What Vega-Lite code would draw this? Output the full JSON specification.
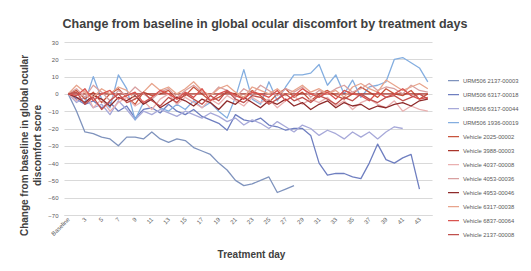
{
"$schema":"https://vega.github.io/schema/vega-lite/v6.json",
"width":368,"height":173,
"autosize":"none",
"padding":{"left":64,"top":42,"right":99,"bottom":56},
"background":"white",
"title":{"text":"Change from baseline in global ocular discomfort by treatment days","fontSize":12.5,"font":"Liberation Sans","fontWeight":"bold","color":"#404040","anchor":"middle","dx":17,"offset":9},
"config":{"view":{"stroke":null},"font":"Liberation Sans"},
"data":{"values":[
{"d":"Baseline","s":"URM506 2137-00003","v":0},{"d":"2","s":"URM506 2137-00003","v":-10},{"d":"3","s":"URM506 2137-00003","v":-22},{"d":"4","s":"URM506 2137-00003","v":-23},{"d":"5","s":"URM506 2137-00003","v":-25},{"d":"6","s":"URM506 2137-00003","v":-26},{"d":"7","s":"URM506 2137-00003","v":-30},{"d":"8","s":"URM506 2137-00003","v":-25},{"d":"9","s":"URM506 2137-00003","v":-25},{"d":"10","s":"URM506 2137-00003","v":-26},{"d":"11","s":"URM506 2137-00003","v":-22},{"d":"12","s":"URM506 2137-00003","v":-26},{"d":"13","s":"URM506 2137-00003","v":-28},{"d":"14","s":"URM506 2137-00003","v":-26},{"d":"15","s":"URM506 2137-00003","v":-27},{"d":"16","s":"URM506 2137-00003","v":-31},{"d":"17","s":"URM506 2137-00003","v":-33},{"d":"18","s":"URM506 2137-00003","v":-35},{"d":"19","s":"URM506 2137-00003","v":-40},{"d":"20","s":"URM506 2137-00003","v":-44},{"d":"21","s":"URM506 2137-00003","v":-50},{"d":"22","s":"URM506 2137-00003","v":-53},{"d":"23","s":"URM506 2137-00003","v":-52},{"d":"24","s":"URM506 2137-00003","v":-50},{"d":"25","s":"URM506 2137-00003","v":-48},{"d":"26","s":"URM506 2137-00003","v":-57},{"d":"27","s":"URM506 2137-00003","v":-55},{"d":"28","s":"URM506 2137-00003","v":-53},
{"d":"Baseline","s":"URM506 6317-00018","v":0},{"d":"2","s":"URM506 6317-00018","v":-3},{"d":"3","s":"URM506 6317-00018","v":-6},{"d":"4","s":"URM506 6317-00018","v":-4},{"d":"5","s":"URM506 6317-00018","v":-8},{"d":"6","s":"URM506 6317-00018","v":-5},{"d":"7","s":"URM506 6317-00018","v":-10},{"d":"8","s":"URM506 6317-00018","v":-7},{"d":"9","s":"URM506 6317-00018","v":-14},{"d":"10","s":"URM506 6317-00018","v":-9},{"d":"11","s":"URM506 6317-00018","v":-8},{"d":"12","s":"URM506 6317-00018","v":-11},{"d":"13","s":"URM506 6317-00018","v":-6},{"d":"14","s":"URM506 6317-00018","v":-10},{"d":"15","s":"URM506 6317-00018","v":-12},{"d":"16","s":"URM506 6317-00018","v":-9},{"d":"17","s":"URM506 6317-00018","v":-13},{"d":"18","s":"URM506 6317-00018","v":-15},{"d":"19","s":"URM506 6317-00018","v":-17},{"d":"20","s":"URM506 6317-00018","v":-21},{"d":"21","s":"URM506 6317-00018","v":-12},{"d":"22","s":"URM506 6317-00018","v":-15},{"d":"23","s":"URM506 6317-00018","v":-16},{"d":"24","s":"URM506 6317-00018","v":-14},{"d":"25","s":"URM506 6317-00018","v":-18},{"d":"26","s":"URM506 6317-00018","v":-19},{"d":"27","s":"URM506 6317-00018","v":-21},{"d":"28","s":"URM506 6317-00018","v":-20},{"d":"29","s":"URM506 6317-00018","v":-20},{"d":"30","s":"URM506 6317-00018","v":-24},{"d":"31","s":"URM506 6317-00018","v":-40},{"d":"32","s":"URM506 6317-00018","v":-47},{"d":"33","s":"URM506 6317-00018","v":-46},{"d":"34","s":"URM506 6317-00018","v":-46},{"d":"35","s":"URM506 6317-00018","v":-48},{"d":"36","s":"URM506 6317-00018","v":-49},{"d":"37","s":"URM506 6317-00018","v":-40},{"d":"38","s":"URM506 6317-00018","v":-29},{"d":"39","s":"URM506 6317-00018","v":-38},{"d":"40","s":"URM506 6317-00018","v":-40},{"d":"41","s":"URM506 6317-00018","v":-37},{"d":"42","s":"URM506 6317-00018","v":-35},{"d":"43","s":"URM506 6317-00018","v":-55},
{"d":"Baseline","s":"URM506 6317-00044","v":0},{"d":"2","s":"URM506 6317-00044","v":-5},{"d":"3","s":"URM506 6317-00044","v":-2},{"d":"4","s":"URM506 6317-00044","v":-8},{"d":"5","s":"URM506 6317-00044","v":-6},{"d":"6","s":"URM506 6317-00044","v":-12},{"d":"7","s":"URM506 6317-00044","v":-4},{"d":"8","s":"URM506 6317-00044","v":-9},{"d":"9","s":"URM506 6317-00044","v":-15},{"d":"10","s":"URM506 6317-00044","v":-10},{"d":"11","s":"URM506 6317-00044","v":-12},{"d":"12","s":"URM506 6317-00044","v":-9},{"d":"13","s":"URM506 6317-00044","v":-11},{"d":"14","s":"URM506 6317-00044","v":-13},{"d":"15","s":"URM506 6317-00044","v":-10},{"d":"16","s":"URM506 6317-00044","v":-12},{"d":"17","s":"URM506 6317-00044","v":-14},{"d":"18","s":"URM506 6317-00044","v":-11},{"d":"19","s":"URM506 6317-00044","v":-13},{"d":"20","s":"URM506 6317-00044","v":-16},{"d":"21","s":"URM506 6317-00044","v":-14},{"d":"22","s":"URM506 6317-00044","v":-18},{"d":"23","s":"URM506 6317-00044","v":-15},{"d":"24","s":"URM506 6317-00044","v":-17},{"d":"25","s":"URM506 6317-00044","v":-20},{"d":"26","s":"URM506 6317-00044","v":-16},{"d":"27","s":"URM506 6317-00044","v":-19},{"d":"28","s":"URM506 6317-00044","v":-22},{"d":"29","s":"URM506 6317-00044","v":-18},{"d":"30","s":"URM506 6317-00044","v":-20},{"d":"31","s":"URM506 6317-00044","v":-24},{"d":"32","s":"URM506 6317-00044","v":-21},{"d":"33","s":"URM506 6317-00044","v":-23},{"d":"34","s":"URM506 6317-00044","v":-26},{"d":"35","s":"URM506 6317-00044","v":-22},{"d":"36","s":"URM506 6317-00044","v":-25},{"d":"37","s":"URM506 6317-00044","v":-22},{"d":"38","s":"URM506 6317-00044","v":-26},{"d":"39","s":"URM506 6317-00044","v":-22},{"d":"40","s":"URM506 6317-00044","v":-19},{"d":"41","s":"URM506 6317-00044","v":-20},
{"d":"Baseline","s":"URM506 1936-00019","v":0},{"d":"2","s":"URM506 1936-00019","v":-2},{"d":"3","s":"URM506 1936-00019","v":-5},{"d":"4","s":"URM506 1936-00019","v":10},{"d":"5","s":"URM506 1936-00019","v":-3},{"d":"6","s":"URM506 1936-00019","v":-8},{"d":"7","s":"URM506 1936-00019","v":11},{"d":"8","s":"URM506 1936-00019","v":3},{"d":"9","s":"URM506 1936-00019","v":-15},{"d":"10","s":"URM506 1936-00019","v":-5},{"d":"11","s":"URM506 1936-00019","v":-3},{"d":"12","s":"URM506 1936-00019","v":-8},{"d":"13","s":"URM506 1936-00019","v":-10},{"d":"14","s":"URM506 1936-00019","v":-6},{"d":"15","s":"URM506 1936-00019","v":-9},{"d":"16","s":"URM506 1936-00019","v":-4},{"d":"17","s":"URM506 1936-00019","v":-8},{"d":"18","s":"URM506 1936-00019","v":-5},{"d":"19","s":"URM506 1936-00019","v":-10},{"d":"20","s":"URM506 1936-00019","v":-14},{"d":"21","s":"URM506 1936-00019","v":-2},{"d":"22","s":"URM506 1936-00019","v":14},{"d":"23","s":"URM506 1936-00019","v":-3},{"d":"24","s":"URM506 1936-00019","v":-6},{"d":"25","s":"URM506 1936-00019","v":7},{"d":"26","s":"URM506 1936-00019","v":-4},{"d":"27","s":"URM506 1936-00019","v":4},{"d":"28","s":"URM506 1936-00019","v":11},{"d":"29","s":"URM506 1936-00019","v":11},{"d":"30","s":"URM506 1936-00019","v":12},{"d":"31","s":"URM506 1936-00019","v":17},{"d":"32","s":"URM506 1936-00019","v":5},{"d":"33","s":"URM506 1936-00019","v":11},{"d":"34","s":"URM506 1936-00019","v":0},{"d":"35","s":"URM506 1936-00019","v":8},{"d":"36","s":"URM506 1936-00019","v":-2},{"d":"37","s":"URM506 1936-00019","v":4},{"d":"38","s":"URM506 1936-00019","v":5},{"d":"39","s":"URM506 1936-00019","v":7},{"d":"40","s":"URM506 1936-00019","v":20},{"d":"41","s":"URM506 1936-00019","v":21},{"d":"42","s":"URM506 1936-00019","v":18},{"d":"43","s":"URM506 1936-00019","v":15},{"d":"44","s":"URM506 1936-00019","v":7},
{"d":"Baseline","s":"Vehicle 2025-00002","v":0},{"d":"2","s":"Vehicle 2025-00002","v":2},{"d":"3","s":"Vehicle 2025-00002","v":-3},{"d":"4","s":"Vehicle 2025-00002","v":1},{"d":"5","s":"Vehicle 2025-00002","v":-5},{"d":"6","s":"Vehicle 2025-00002","v":0},{"d":"7","s":"Vehicle 2025-00002","v":3},{"d":"8","s":"Vehicle 2025-00002","v":-2},{"d":"9","s":"Vehicle 2025-00002","v":-6},{"d":"10","s":"Vehicle 2025-00002","v":1},{"d":"11","s":"Vehicle 2025-00002","v":-1},{"d":"12","s":"Vehicle 2025-00002","v":0},{"d":"13","s":"Vehicle 2025-00002","v":2},{"d":"14","s":"Vehicle 2025-00002","v":-3},{"d":"15","s":"Vehicle 2025-00002","v":-1},{"d":"16","s":"Vehicle 2025-00002","v":4},{"d":"17","s":"Vehicle 2025-00002","v":0},{"d":"18","s":"Vehicle 2025-00002","v":-4},{"d":"19","s":"Vehicle 2025-00002","v":-2},{"d":"20","s":"Vehicle 2025-00002","v":1},{"d":"21","s":"Vehicle 2025-00002","v":0},{"d":"22","s":"Vehicle 2025-00002","v":-3},{"d":"23","s":"Vehicle 2025-00002","v":2},{"d":"24","s":"Vehicle 2025-00002","v":-1},{"d":"25","s":"Vehicle 2025-00002","v":-5},{"d":"26","s":"Vehicle 2025-00002","v":0},{"d":"27","s":"Vehicle 2025-00002","v":3},{"d":"28","s":"Vehicle 2025-00002","v":-2},{"d":"29","s":"Vehicle 2025-00002","v":1},{"d":"30","s":"Vehicle 2025-00002","v":-4},{"d":"31","s":"Vehicle 2025-00002","v":0},{"d":"32","s":"Vehicle 2025-00002","v":2},{"d":"33","s":"Vehicle 2025-00002","v":-1},{"d":"34","s":"Vehicle 2025-00002","v":-3},{"d":"35","s":"Vehicle 2025-00002","v":0},{"d":"36","s":"Vehicle 2025-00002","v":4},{"d":"37","s":"Vehicle 2025-00002","v":1},{"d":"38","s":"Vehicle 2025-00002","v":-2},{"d":"39","s":"Vehicle 2025-00002","v":3},{"d":"40","s":"Vehicle 2025-00002","v":0},{"d":"41","s":"Vehicle 2025-00002","v":-1},{"d":"42","s":"Vehicle 2025-00002","v":2},{"d":"43","s":"Vehicle 2025-00002","v":-3},{"d":"44","s":"Vehicle 2025-00002","v":0},
{"d":"Baseline","s":"Vehicle 3988-00003","v":0},{"d":"2","s":"Vehicle 3988-00003","v":0},{"d":"3","s":"Vehicle 3988-00003","v":0},{"d":"4","s":"Vehicle 3988-00003","v":0},{"d":"5","s":"Vehicle 3988-00003","v":0},{"d":"6","s":"Vehicle 3988-00003","v":0},{"d":"7","s":"Vehicle 3988-00003","v":0},{"d":"8","s":"Vehicle 3988-00003","v":0},{"d":"9","s":"Vehicle 3988-00003","v":0},{"d":"10","s":"Vehicle 3988-00003","v":0},{"d":"11","s":"Vehicle 3988-00003","v":0},{"d":"12","s":"Vehicle 3988-00003","v":0},{"d":"13","s":"Vehicle 3988-00003","v":0},{"d":"14","s":"Vehicle 3988-00003","v":0},{"d":"15","s":"Vehicle 3988-00003","v":0},{"d":"16","s":"Vehicle 3988-00003","v":0},{"d":"17","s":"Vehicle 3988-00003","v":0},{"d":"18","s":"Vehicle 3988-00003","v":0},{"d":"19","s":"Vehicle 3988-00003","v":0},{"d":"20","s":"Vehicle 3988-00003","v":0},{"d":"21","s":"Vehicle 3988-00003","v":0},{"d":"22","s":"Vehicle 3988-00003","v":0},{"d":"23","s":"Vehicle 3988-00003","v":0},{"d":"24","s":"Vehicle 3988-00003","v":0},{"d":"25","s":"Vehicle 3988-00003","v":0},{"d":"26","s":"Vehicle 3988-00003","v":0},{"d":"27","s":"Vehicle 3988-00003","v":0},{"d":"28","s":"Vehicle 3988-00003","v":0},{"d":"29","s":"Vehicle 3988-00003","v":0},{"d":"30","s":"Vehicle 3988-00003","v":0},{"d":"31","s":"Vehicle 3988-00003","v":0},{"d":"32","s":"Vehicle 3988-00003","v":0},{"d":"33","s":"Vehicle 3988-00003","v":0},{"d":"34","s":"Vehicle 3988-00003","v":0},{"d":"35","s":"Vehicle 3988-00003","v":0},{"d":"36","s":"Vehicle 3988-00003","v":0},{"d":"37","s":"Vehicle 3988-00003","v":0},{"d":"38","s":"Vehicle 3988-00003","v":0},{"d":"39","s":"Vehicle 3988-00003","v":0},{"d":"40","s":"Vehicle 3988-00003","v":0},{"d":"41","s":"Vehicle 3988-00003","v":0},{"d":"42","s":"Vehicle 3988-00003","v":0},{"d":"43","s":"Vehicle 3988-00003","v":0},{"d":"44","s":"Vehicle 3988-00003","v":0},
{"d":"Baseline","s":"Vehicle 4037-00008","v":0},{"d":"2","s":"Vehicle 4037-00008","v":-4},{"d":"3","s":"Vehicle 4037-00008","v":2},{"d":"4","s":"Vehicle 4037-00008","v":-8},{"d":"5","s":"Vehicle 4037-00008","v":-3},{"d":"6","s":"Vehicle 4037-00008","v":-10},{"d":"7","s":"Vehicle 4037-00008","v":-5},{"d":"8","s":"Vehicle 4037-00008","v":-2},{"d":"9","s":"Vehicle 4037-00008","v":-7},{"d":"10","s":"Vehicle 4037-00008","v":-4},{"d":"11","s":"Vehicle 4037-00008","v":-9},{"d":"12","s":"Vehicle 4037-00008","v":-3},{"d":"13","s":"Vehicle 4037-00008","v":0},{"d":"14","s":"Vehicle 4037-00008","v":-6},{"d":"15","s":"Vehicle 4037-00008","v":-2},{"d":"16","s":"Vehicle 4037-00008","v":-5},{"d":"17","s":"Vehicle 4037-00008","v":-8},{"d":"18","s":"Vehicle 4037-00008","v":-3},{"d":"19","s":"Vehicle 4037-00008","v":-6},{"d":"20","s":"Vehicle 4037-00008","v":-1},{"d":"21","s":"Vehicle 4037-00008","v":-4},{"d":"22","s":"Vehicle 4037-00008","v":-7},{"d":"23","s":"Vehicle 4037-00008","v":-2},{"d":"24","s":"Vehicle 4037-00008","v":-5},{"d":"25","s":"Vehicle 4037-00008","v":-3},{"d":"26","s":"Vehicle 4037-00008","v":-8},{"d":"27","s":"Vehicle 4037-00008","v":-4},{"d":"28","s":"Vehicle 4037-00008","v":-1},{"d":"29","s":"Vehicle 4037-00008","v":-6},{"d":"30","s":"Vehicle 4037-00008","v":-3},{"d":"31","s":"Vehicle 4037-00008","v":-5},{"d":"32","s":"Vehicle 4037-00008","v":-2},{"d":"33","s":"Vehicle 4037-00008","v":-7},{"d":"34","s":"Vehicle 4037-00008","v":-4},{"d":"35","s":"Vehicle 4037-00008","v":-9},{"d":"36","s":"Vehicle 4037-00008","v":-5},{"d":"37","s":"Vehicle 4037-00008","v":-3},{"d":"38","s":"Vehicle 4037-00008","v":-6},{"d":"39","s":"Vehicle 4037-00008","v":-8},{"d":"40","s":"Vehicle 4037-00008","v":-4},{"d":"41","s":"Vehicle 4037-00008","v":-10},{"d":"42","s":"Vehicle 4037-00008","v":-7},{"d":"43","s":"Vehicle 4037-00008","v":-9},{"d":"44","s":"Vehicle 4037-00008","v":-10},
{"d":"Baseline","s":"Vehicle 4053-00036","v":0},{"d":"2","s":"Vehicle 4053-00036","v":3},{"d":"3","s":"Vehicle 4053-00036","v":-2},{"d":"4","s":"Vehicle 4053-00036","v":5},{"d":"5","s":"Vehicle 4053-00036","v":1},{"d":"6","s":"Vehicle 4053-00036","v":-4},{"d":"7","s":"Vehicle 4053-00036","v":2},{"d":"8","s":"Vehicle 4053-00036","v":-1},{"d":"9","s":"Vehicle 4053-00036","v":4},{"d":"10","s":"Vehicle 4053-00036","v":0},{"d":"11","s":"Vehicle 4053-00036","v":-3},{"d":"12","s":"Vehicle 4053-00036","v":1},{"d":"13","s":"Vehicle 4053-00036","v":3},{"d":"14","s":"Vehicle 4053-00036","v":-2},{"d":"15","s":"Vehicle 4053-00036","v":2},{"d":"16","s":"Vehicle 4053-00036","v":5},{"d":"17","s":"Vehicle 4053-00036","v":1},{"d":"18","s":"Vehicle 4053-00036","v":-1},{"d":"19","s":"Vehicle 4053-00036","v":4},{"d":"20","s":"Vehicle 4053-00036","v":2},{"d":"21","s":"Vehicle 4053-00036","v":-2},{"d":"22","s":"Vehicle 4053-00036","v":3},{"d":"23","s":"Vehicle 4053-00036","v":0},{"d":"24","s":"Vehicle 4053-00036","v":5},{"d":"25","s":"Vehicle 4053-00036","v":2},{"d":"26","s":"Vehicle 4053-00036","v":-1},{"d":"27","s":"Vehicle 4053-00036","v":3},{"d":"28","s":"Vehicle 4053-00036","v":1},{"d":"29","s":"Vehicle 4053-00036","v":4},{"d":"30","s":"Vehicle 4053-00036","v":-2},{"d":"31","s":"Vehicle 4053-00036","v":2},{"d":"32","s":"Vehicle 4053-00036","v":0},{"d":"33","s":"Vehicle 4053-00036","v":3},{"d":"34","s":"Vehicle 4053-00036","v":5},{"d":"35","s":"Vehicle 4053-00036","v":1},{"d":"36","s":"Vehicle 4053-00036","v":3},{"d":"37","s":"Vehicle 4053-00036","v":6},{"d":"38","s":"Vehicle 4053-00036","v":2},{"d":"39","s":"Vehicle 4053-00036","v":4},{"d":"40","s":"Vehicle 4053-00036","v":3},{"d":"41","s":"Vehicle 4053-00036","v":0},{"d":"42","s":"Vehicle 4053-00036","v":5},{"d":"43","s":"Vehicle 4053-00036","v":2},{"d":"44","s":"Vehicle 4053-00036","v":1},
{"d":"Baseline","s":"Vehicle 4953-00046","v":0},{"d":"2","s":"Vehicle 4953-00046","v":-2},{"d":"3","s":"Vehicle 4953-00046","v":-5},{"d":"4","s":"Vehicle 4953-00046","v":-1},{"d":"5","s":"Vehicle 4953-00046","v":-3},{"d":"6","s":"Vehicle 4953-00046","v":-7},{"d":"7","s":"Vehicle 4953-00046","v":-2},{"d":"8","s":"Vehicle 4953-00046","v":-4},{"d":"9","s":"Vehicle 4953-00046","v":-1},{"d":"10","s":"Vehicle 4953-00046","v":-6},{"d":"11","s":"Vehicle 4953-00046","v":-3},{"d":"12","s":"Vehicle 4953-00046","v":-8},{"d":"13","s":"Vehicle 4953-00046","v":-5},{"d":"14","s":"Vehicle 4953-00046","v":-2},{"d":"15","s":"Vehicle 4953-00046","v":-4},{"d":"16","s":"Vehicle 4953-00046","v":-7},{"d":"17","s":"Vehicle 4953-00046","v":-3},{"d":"18","s":"Vehicle 4953-00046","v":-5},{"d":"19","s":"Vehicle 4953-00046","v":-9},{"d":"20","s":"Vehicle 4953-00046","v":-4},{"d":"21","s":"Vehicle 4953-00046","v":-6},{"d":"22","s":"Vehicle 4953-00046","v":-2},{"d":"23","s":"Vehicle 4953-00046","v":-5},{"d":"24","s":"Vehicle 4953-00046","v":-8},{"d":"25","s":"Vehicle 4953-00046","v":-4},{"d":"26","s":"Vehicle 4953-00046","v":-6},{"d":"27","s":"Vehicle 4953-00046","v":-3},{"d":"28","s":"Vehicle 4953-00046","v":-7},{"d":"29","s":"Vehicle 4953-00046","v":-5},{"d":"30","s":"Vehicle 4953-00046","v":-9},{"d":"31","s":"Vehicle 4953-00046","v":-6},{"d":"32","s":"Vehicle 4953-00046","v":-4},{"d":"33","s":"Vehicle 4953-00046","v":-8},{"d":"34","s":"Vehicle 4953-00046","v":-5},{"d":"35","s":"Vehicle 4953-00046","v":-7},{"d":"36","s":"Vehicle 4953-00046","v":-6},{"d":"37","s":"Vehicle 4953-00046","v":-9},{"d":"38","s":"Vehicle 4953-00046","v":-7},{"d":"39","s":"Vehicle 4953-00046","v":-8},{"d":"40","s":"Vehicle 4953-00046","v":-6},{"d":"41","s":"Vehicle 4953-00046","v":-5},{"d":"42","s":"Vehicle 4953-00046","v":-7},{"d":"43","s":"Vehicle 4953-00046","v":-4},{"d":"44","s":"Vehicle 4953-00046","v":-3},
{"d":"Baseline","s":"Vehicle 6317-00038","v":0},{"d":"2","s":"Vehicle 6317-00038","v":5},{"d":"3","s":"Vehicle 6317-00038","v":1},{"d":"4","s":"Vehicle 6317-00038","v":-2},{"d":"5","s":"Vehicle 6317-00038","v":3},{"d":"6","s":"Vehicle 6317-00038","v":0},{"d":"7","s":"Vehicle 6317-00038","v":4},{"d":"8","s":"Vehicle 6317-00038","v":2},{"d":"9","s":"Vehicle 6317-00038","v":-3},{"d":"10","s":"Vehicle 6317-00038","v":1},{"d":"11","s":"Vehicle 6317-00038","v":6},{"d":"12","s":"Vehicle 6317-00038","v":2},{"d":"13","s":"Vehicle 6317-00038","v":4},{"d":"14","s":"Vehicle 6317-00038","v":0},{"d":"15","s":"Vehicle 6317-00038","v":3},{"d":"16","s":"Vehicle 6317-00038","v":7},{"d":"17","s":"Vehicle 6317-00038","v":2},{"d":"18","s":"Vehicle 6317-00038","v":-1},{"d":"19","s":"Vehicle 6317-00038","v":3},{"d":"20","s":"Vehicle 6317-00038","v":5},{"d":"21","s":"Vehicle 6317-00038","v":1},{"d":"22","s":"Vehicle 6317-00038","v":-2},{"d":"23","s":"Vehicle 6317-00038","v":4},{"d":"24","s":"Vehicle 6317-00038","v":2},{"d":"25","s":"Vehicle 6317-00038","v":0},{"d":"26","s":"Vehicle 6317-00038","v":3},{"d":"27","s":"Vehicle 6317-00038","v":-1},{"d":"28","s":"Vehicle 6317-00038","v":2},{"d":"29","s":"Vehicle 6317-00038","v":5},{"d":"30","s":"Vehicle 6317-00038","v":1},{"d":"31","s":"Vehicle 6317-00038","v":3},{"d":"32","s":"Vehicle 6317-00038","v":0},{"d":"33","s":"Vehicle 6317-00038","v":2},{"d":"34","s":"Vehicle 6317-00038","v":-2},{"d":"35","s":"Vehicle 6317-00038","v":4},{"d":"36","s":"Vehicle 6317-00038","v":6},{"d":"37","s":"Vehicle 6317-00038","v":3},{"d":"38","s":"Vehicle 6317-00038","v":1},{"d":"39","s":"Vehicle 6317-00038","v":8},{"d":"40","s":"Vehicle 6317-00038","v":5},{"d":"41","s":"Vehicle 6317-00038","v":2},{"d":"42","s":"Vehicle 6317-00038","v":4},{"d":"43","s":"Vehicle 6317-00038","v":6},{"d":"44","s":"Vehicle 6317-00038","v":3},
{"d":"Baseline","s":"Vehicle 6837-00064","v":0},{"d":"2","s":"Vehicle 6837-00064","v":-1},{"d":"3","s":"Vehicle 6837-00064","v":3},{"d":"4","s":"Vehicle 6837-00064","v":-4},{"d":"5","s":"Vehicle 6837-00064","v":0},{"d":"6","s":"Vehicle 6837-00064","v":2},{"d":"7","s":"Vehicle 6837-00064","v":-3},{"d":"8","s":"Vehicle 6837-00064","v":-1},{"d":"9","s":"Vehicle 6837-00064","v":1},{"d":"10","s":"Vehicle 6837-00064","v":-5},{"d":"11","s":"Vehicle 6837-00064","v":-2},{"d":"12","s":"Vehicle 6837-00064","v":2},{"d":"13","s":"Vehicle 6837-00064","v":0},{"d":"14","s":"Vehicle 6837-00064","v":-3},{"d":"15","s":"Vehicle 6837-00064","v":1},{"d":"16","s":"Vehicle 6837-00064","v":-2},{"d":"17","s":"Vehicle 6837-00064","v":3},{"d":"18","s":"Vehicle 6837-00064","v":-4},{"d":"19","s":"Vehicle 6837-00064","v":0},{"d":"20","s":"Vehicle 6837-00064","v":2},{"d":"21","s":"Vehicle 6837-00064","v":-1},{"d":"22","s":"Vehicle 6837-00064","v":-3},{"d":"23","s":"Vehicle 6837-00064","v":1},{"d":"24","s":"Vehicle 6837-00064","v":0},{"d":"25","s":"Vehicle 6837-00064","v":-2},{"d":"26","s":"Vehicle 6837-00064","v":2},{"d":"27","s":"Vehicle 6837-00064","v":-4},{"d":"28","s":"Vehicle 6837-00064","v":-1},{"d":"29","s":"Vehicle 6837-00064","v":3},{"d":"30","s":"Vehicle 6837-00064","v":0},{"d":"31","s":"Vehicle 6837-00064","v":-2},{"d":"32","s":"Vehicle 6837-00064","v":1},{"d":"33","s":"Vehicle 6837-00064","v":-3},{"d":"34","s":"Vehicle 6837-00064","v":2},{"d":"35","s":"Vehicle 6837-00064","v":0},{"d":"36","s":"Vehicle 6837-00064","v":-1},{"d":"37","s":"Vehicle 6837-00064","v":-4},{"d":"38","s":"Vehicle 6837-00064","v":1},{"d":"39","s":"Vehicle 6837-00064","v":-2},{"d":"40","s":"Vehicle 6837-00064","v":0},{"d":"41","s":"Vehicle 6837-00064","v":3},{"d":"42","s":"Vehicle 6837-00064","v":-1},{"d":"43","s":"Vehicle 6837-00064","v":-3},{"d":"44","s":"Vehicle 6837-00064","v":-2},
{"d":"Baseline","s":"Vehicle 2137-00008","v":0},{"d":"2","s":"Vehicle 2137-00008","v":1},{"d":"3","s":"Vehicle 2137-00008","v":-6},{"d":"4","s":"Vehicle 2137-00008","v":-2},{"d":"5","s":"Vehicle 2137-00008","v":-9},{"d":"6","s":"Vehicle 2137-00008","v":-4},{"d":"7","s":"Vehicle 2137-00008","v":0},{"d":"8","s":"Vehicle 2137-00008","v":-5},{"d":"9","s":"Vehicle 2137-00008","v":-3},{"d":"10","s":"Vehicle 2137-00008","v":1},{"d":"11","s":"Vehicle 2137-00008","v":-4},{"d":"12","s":"Vehicle 2137-00008","v":-7},{"d":"13","s":"Vehicle 2137-00008","v":-2},{"d":"14","s":"Vehicle 2137-00008","v":-5},{"d":"15","s":"Vehicle 2137-00008","v":0},{"d":"16","s":"Vehicle 2137-00008","v":-3},{"d":"17","s":"Vehicle 2137-00008","v":-6},{"d":"18","s":"Vehicle 2137-00008","v":-1},{"d":"19","s":"Vehicle 2137-00008","v":-4},{"d":"20","s":"Vehicle 2137-00008","v":2},{"d":"21","s":"Vehicle 2137-00008","v":-3},{"d":"22","s":"Vehicle 2137-00008","v":-5},{"d":"23","s":"Vehicle 2137-00008","v":-1},{"d":"24","s":"Vehicle 2137-00008","v":-2},{"d":"25","s":"Vehicle 2137-00008","v":-6},{"d":"26","s":"Vehicle 2137-00008","v":-3},{"d":"27","s":"Vehicle 2137-00008","v":0},{"d":"28","s":"Vehicle 2137-00008","v":-4},{"d":"29","s":"Vehicle 2137-00008","v":-2},{"d":"30","s":"Vehicle 2137-00008","v":-5},{"d":"31","s":"Vehicle 2137-00008","v":-1},{"d":"32","s":"Vehicle 2137-00008","v":-3},{"d":"33","s":"Vehicle 2137-00008","v":-6},{"d":"34","s":"Vehicle 2137-00008","v":-2},{"d":"35","s":"Vehicle 2137-00008","v":-4},{"d":"36","s":"Vehicle 2137-00008","v":0},{"d":"37","s":"Vehicle 2137-00008","v":-3},{"d":"38","s":"Vehicle 2137-00008","v":-5},{"d":"39","s":"Vehicle 2137-00008","v":-2},{"d":"40","s":"Vehicle 2137-00008","v":-1},{"d":"41","s":"Vehicle 2137-00008","v":-4},{"d":"42","s":"Vehicle 2137-00008","v":-2},{"d":"43","s":"Vehicle 2137-00008","v":0},{"d":"44","s":"Vehicle 2137-00008","v":-3}
]},
"mark":{"type":"line","strokeJoin":"round"},
"encoding":{
"x":{"field":"d","type":"ordinal","sort":["Baseline","2","3","4","5","6","7","8","9","10","11","12","13","14","15","16","17","18","19","20","21","22","23","24","25","26","27","28","29","30","31","32","33","34","35","36","37","38","39","40","41","42","43","44"],
"scale":{"type":"point","padding":0.5},
"axis":{"title":"Treatment day","titleFontSize":10,"titleFontWeight":"bold","titleColor":"#404040","titleY":39,"titleBaseline":"middle","titleX":187,
"values":["Baseline","3","5","7","9","11","13","15","17","19","21","23","25","27","29","31","33","35","37","39","41","43"],
"labelAngle":-45,"labelAlign":"right","labelBaseline":"middle","labelFontSize":6,"labelColor":"#595959","labelPadding":3,"ticks":false,"domain":true,"domainColor":"#d9d9d9","grid":false}},
"y":{"field":"v","type":"quantitative","scale":{"domain":[-70,30],"nice":false,"zero":false},
"axis":{"title":["Change from baseline in global ocular","discomfort score"],"titleFontSize":10,"titleFontWeight":"bold","titleColor":"#404040","titleAngle":-90,"titleBaseline":"top","titleX":-45,"titleY":103,"titleAlign":"center","titleLineHeight":13,
"values":[-70,-60,-50,-40,-30,-20,-10,0,10,20,30],"labelFontSize":6,"labelColor":"#595959","labelPadding":6,"ticks":false,"domain":false,"grid":true,"gridColor":"#d9d9d9","gridWidth":1}},
"color":{"field":"s","type":"nominal","title":null,
"scale":{"domain":["URM506 2137-00003","URM506 6317-00018","URM506 6317-00044","URM506 1936-00019","Vehicle 2025-00002","Vehicle 3988-00003","Vehicle 4037-00008","Vehicle 4053-00036","Vehicle 4953-00046","Vehicle 6317-00038","Vehicle 6837-00064","Vehicle 2137-00008"],
"range":["#7f93bd","#6f7fc0","#a7a9d9","#84aee0","#c8553d","#a9342a","#eab0b0","#d8a0a0","#8e2a2a","#e8a48c","#d9534f","#c0504d"]},
"legend":{"orient":"none","legendX":383,"legendY":32,"symbolType":"stroke","symbolSize":121,"symbolStrokeWidth":1.5,"labelFontSize":5.8,"labelColor":"#595959","labelOffset":3,"clipHeight":13.3,"rowPadding":0,"labelLimit":85}},
"strokeWidth":{"field":"s","type":"nominal","legend":null,
"scale":{"domain":["URM506 2137-00003","URM506 6317-00018","URM506 6317-00044","URM506 1936-00019","Vehicle 2025-00002","Vehicle 3988-00003","Vehicle 4037-00008","Vehicle 4053-00036","Vehicle 4953-00046","Vehicle 6317-00038","Vehicle 6837-00064","Vehicle 2137-00008"],
"range":[1.3,1.3,1.3,1.3,1.3,2.2,1.2,1.2,1.3,1.2,1.3,1.3]}}
}
}
